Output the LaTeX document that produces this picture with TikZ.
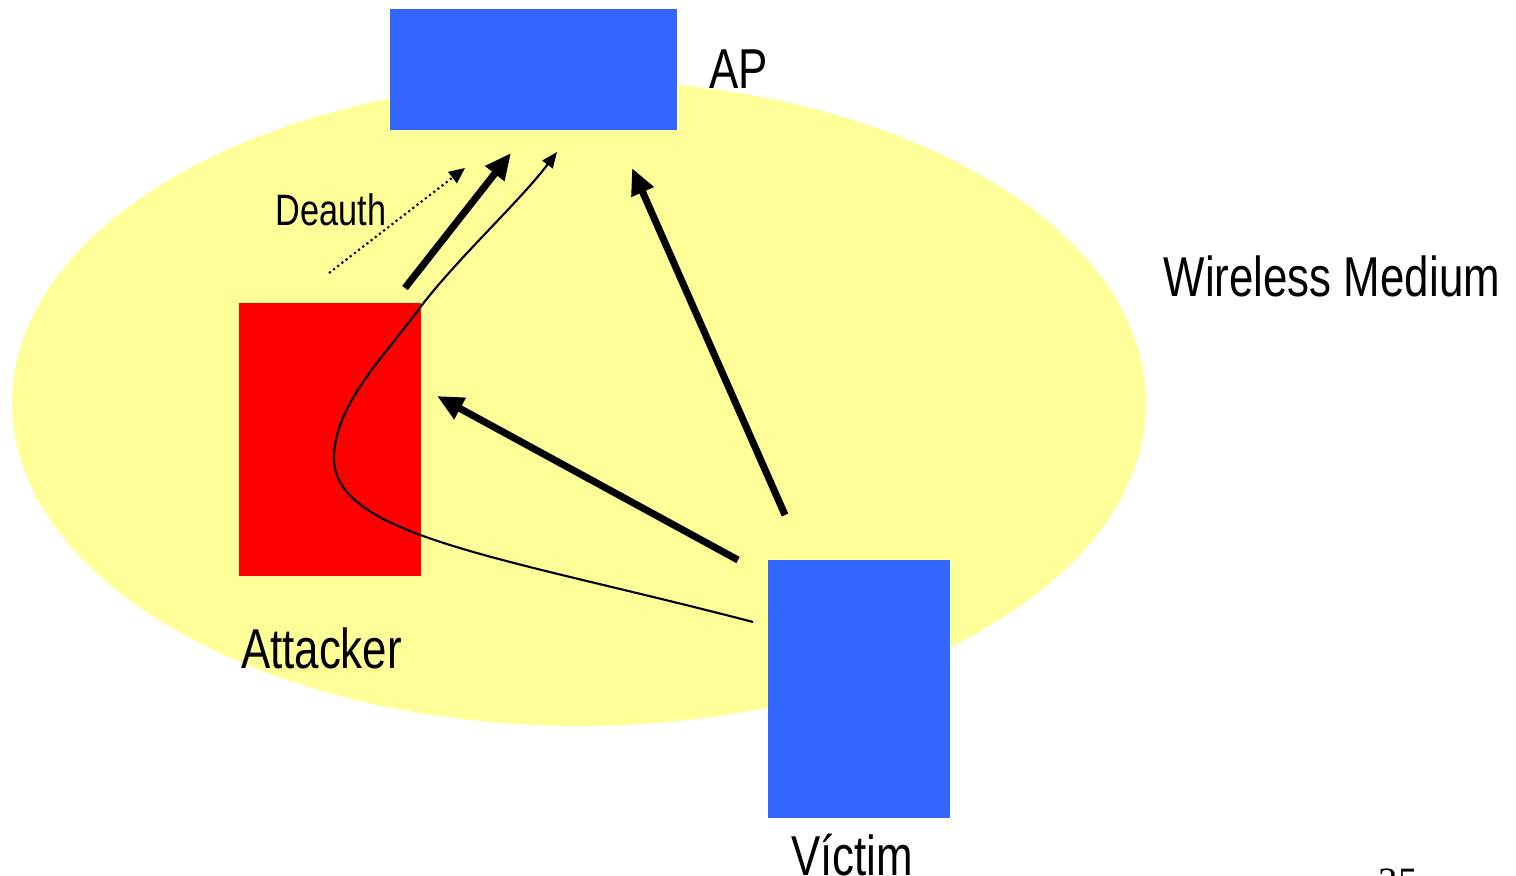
\documentclass[tikz,border=0pt]{standalone}
\usepackage{fontspec}
\setmainfont{Liberation Sans}[FakeStretch=0.78]
\newfontfamily\slidenum{Liberation Serif}
\usetikzlibrary{arrows.meta, positioning}
\definecolor{mediumyellow}{RGB}{255, 255, 153}
\definecolor{stationblue}{RGB}{51, 102, 255}
\definecolor{attackred}{RGB}{255, 0, 0}

\begin{document}
\begin{tikzpicture}[
    station/.style={rectangle, fill=stationblue, inner sep=0pt, minimum width=1.82cm},
    lbl/.style={font=\fontsize{16}{18}\selectfont, inner sep=0pt},
    bigarrow/.style={-{Triangle[length=7.5pt, width=6.5pt]}, line width=2pt},
    thinarrow/.style={-{Triangle[length=4.5pt, width=3.6pt]}, line width=0.6pt},
    deauth/.style={-{Triangle[length=4.5pt, width=4pt]}, line width=0.6pt, dash pattern=on 0.6pt off 0.9pt}
]
\useasboundingbox (0,0) rectangle (15.16,8.76);

% wireless medium
\fill[mediumyellow] (5.79,4.73) ellipse [x radius=5.67cm, y radius=3.23cm];

\node[station, minimum width=2.87cm, minimum height=1.21cm] (ap) at (5.335,8.065) {};
\node[station, fill=attackred, minimum height=2.73cm] (attacker) at (3.30,4.365) {};
\node[station, minimum height=2.58cm] (victim) at (8.59,1.87) {};

\node[lbl, right=0.31cm of ap] (aplbl) {AP};
\node[lbl, below=0.50cm of attacker.south west, anchor=north west, xshift=0.02cm] (attlbl) {Attacker};
\node[lbl, below=0.15cm of victim, xshift=-0.07cm] (viclbl) {Víctim};
\node[lbl, anchor=base west] (medlbl) at (11.63,5.79) {Wireless Medium};
\node[lbl, font=\fontsize{12.5}{14}\selectfont, anchor=base west] (deauthlbl) at (2.75,6.50) {Deauth};
\node[inner sep=0pt, anchor=base west, font=\slidenum\fontsize{11}{13}\selectfont] (pagenum) at (13.78,-0.19) {35};

% arrow ends
\coordinate (att-deauth) at (3.29,6.03);
\coordinate (ap-deauth) at (4.65,7.08);
\coordinate (att-fwd) at (4.05,5.88);
\coordinate (ap-fwd) at (5.11,7.23);
\coordinate (vic-curve) at (7.53,2.54);
\coordinate (ap-curve) at (5.57,7.24);
\coordinate (vic-ap) at (7.85,3.61);
\coordinate (ap-vic) at (6.32,7.08);
\coordinate (vic-att) at (7.38,3.16);
\coordinate (att-vic) at (4.37,4.80);

\draw[deauth] (att-deauth) -- (ap-deauth);
\draw[bigarrow] (att-fwd) -- (ap-fwd);
\draw[bigarrow] (vic-ap) -- (ap-vic);
\draw[bigarrow] (vic-att) -- (att-vic);
\draw[thinarrow] (vic-curve) .. controls (5.0,3.2) and (3.3,3.4) .. (3.34,4.21)
    .. controls (3.37,4.75) and (3.85,5.2) .. (4.22,5.71)
    .. controls (4.6,6.2) and (5.2,6.75) .. (ap-curve);

\end{tikzpicture}
\end{document}
